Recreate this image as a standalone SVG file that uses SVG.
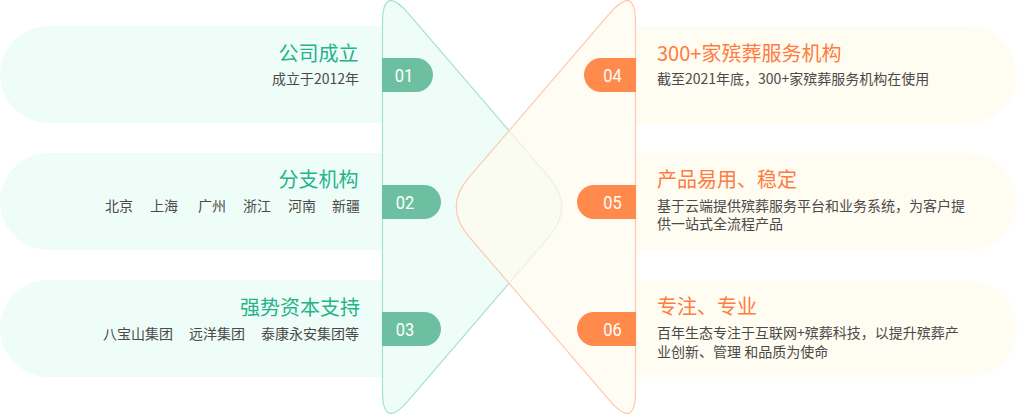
<svg xmlns="http://www.w3.org/2000/svg" width="1017" height="414" viewBox="0 0 1017 414">
<style>
.pl{fill:#effdf8}
.pr{fill:#fffcf1}
.bg{fill:#6dbfa1}
.bo{fill:#ff8a4b}
.num{font-family:Roboto,"DejaVu Sans",sans-serif;font-size:19px;fill:#ffffff;text-anchor:middle}
.tg{font-family:"Noto Sans CJK SC","Noto Sans",sans-serif;font-size:20px;fill:#25b38a}
.to{font-family:"Noto Sans CJK SC","Noto Sans",sans-serif;font-size:20px;fill:#ff7b3f}
.sub{font-family:"Noto Sans CJK SC","Noto Sans",sans-serif;font-size:14px;fill:#4a4a4a}
.end{text-anchor:end}
</style>
<rect width="1017" height="414" fill="#ffffff"/>
<g id="pills">
<path class="pl" d="M382.5,26 H48.5 A48.5,48.5 0 0 0 48.5,123 H382.5 Z"/>
<path class="pl" d="M382.5,153 H48.5 A48.5,48.5 0 0 0 48.5,250 H382.5 Z"/>
<path class="pl" d="M382.5,280 H48.5 A48.5,48.5 0 0 0 48.5,377 H382.5 Z"/>
<path class="pr" d="M635.5,26 H968.5 A48.5,48.5 0 0 1 968.5,123 H635.5 Z"/>
<path class="pr" d="M635.5,153 H968.5 A48.5,48.5 0 0 1 968.5,250 H635.5 Z"/>
<path class="pr" d="M635.5,280 H968.5 A48.5,48.5 0 0 1 968.5,377 H635.5 Z"/>
</g>
<g id="triangles">
<path d="M382.5,23.3 Q382.5,-16.7 408.5,13.7 L549.1,177.4 Q574.5,207 549.1,236.6 L408.5,400.3 Q382.5,430.7 382.5,390.7 Z" fill="#effdf8" stroke="#a3e2cb" stroke-width="1.2"/>
<path d="M635.5,23.3 Q635.5,-16.7 609.5,13.7 L468.9,177.4 Q443.5,207 468.9,236.6 L609.5,400.3 Q635.5,430.7 635.5,390.7 Z" fill="#fffbf0" fill-opacity="0.7" stroke="#ffc8ac" stroke-width="1.2"/>
</g>
<g id="connectors"></g>
<g id="node-01">
<path class="bg" d="M382,58 H416 A17,17 0 0 1 416,92 H382 Z"/>
<text class="num" x="404" y="82" textLength="18.5" lengthAdjust="spacingAndGlyphs">01</text>
<text class="tg end" x="358.5" y="61">公司成立</text>
<text class="sub end" x="359" y="84">成立于2012年</text>
</g>
<g id="node-02">
<path class="bg" d="M382,185 H424 A17,17 0 0 1 424,219 H382 Z"/>
<text class="num" x="405" y="209" textLength="18.5" lengthAdjust="spacingAndGlyphs">02</text>
<text class="tg end" x="358.5" y="187">分支机构</text>
<text class="sub" y="211"><tspan x="105">北京</tspan><tspan x="150">上海</tspan><tspan x="198">广州</tspan><tspan x="243">浙江</tspan><tspan x="288">河南</tspan><tspan x="332">新疆</tspan></text>
</g>
<g id="node-03">
<path class="bg" d="M382,312 H424 A17,17 0 0 1 424,346 H382 Z"/>
<text class="num" x="405" y="336" textLength="18.5" lengthAdjust="spacingAndGlyphs">03</text>
<text class="tg end" x="360" y="315">强势资本支持</text>
<text class="sub" y="339"><tspan x="103">八宝山集团</tspan><tspan x="189">远洋集团</tspan><tspan x="261">泰康永安集团等</tspan></text>
</g>
<g id="node-04">
<path class="bo" d="M636,58 H601 A17,17 0 0 0 601,92 H636 Z"/>
<text class="num" x="612.5" y="82" textLength="18.5" lengthAdjust="spacingAndGlyphs">04</text>
<text class="to" x="657" y="61">300+家殡葬服务机构</text>
<text class="sub" x="657" y="84">截至2021年底，300+家殡葬服务机构在使用</text>
</g>
<g id="node-05">
<path class="bo" d="M636,185 H594 A17,17 0 0 0 594,219 H636 Z"/>
<text class="num" x="612.5" y="209" textLength="18.5" lengthAdjust="spacingAndGlyphs">05</text>
<text class="to" x="657" y="187">产品易用、稳定</text>
<text class="sub" x="657" y="210.5">基于云端提供殡葬服务平台和业务系统，为客户提</text>
<text class="sub" x="657" y="229">供一站式全流程产品</text>
</g>
<g id="node-06">
<path class="bo" d="M636,312 H594 A17,17 0 0 0 594,346 H636 Z"/>
<text class="num" x="612.5" y="336" textLength="18.5" lengthAdjust="spacingAndGlyphs">06</text>
<text class="to" x="657" y="314">专注、专业</text>
<text class="sub" x="657" y="338">百年生态专注于互联网+殡葬科技，以提升殡葬产</text>
<text class="sub" x="657" y="356.5" xml:space="preserve">业创新、管理 和品质为使命</text>
</g>
</svg>
